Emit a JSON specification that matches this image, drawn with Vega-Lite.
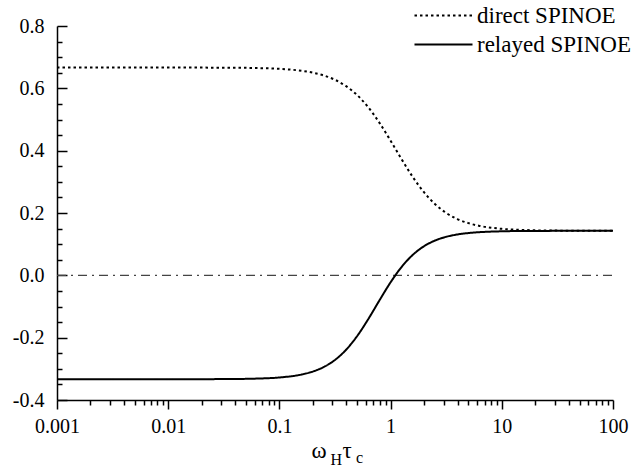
{
  "$schema": "https://vega.github.io/schema/vega-lite/v6.json",
  "width": 556,
  "height": 374,
  "autosize": {"type": "none"},
  "padding": {"left": 57, "top": 26, "right": 22, "bottom": 67},
  "background": "white",
  "title": {
    "text": "c",
    "orient": "bottom",
    "anchor": "start",
    "frame": "group",
    "dx": 299,
    "offset": -4,
    "baseline": "alphabetic",
    "font": "Times New Roman, Liberation Serif, DejaVu Serif, serif",
    "fontSize": 16,
    "fontWeight": "normal",
    "color": "black"
  },
  "config": {
    "view": {"stroke": null},
    "font": "Times New Roman, Liberation Serif, DejaVu Serif, serif",
    "legend": {
      "orient": "none",
      "legendX": 375,
      "legendY": -22,
      "symbolType": "M-3,0H3",
      "symbolSize": 374,
      "symbolStrokeWidth": 2,
      "symbolStrokeColor": "black",
      "labelFont": "Times New Roman, Liberation Serif, DejaVu Serif, serif",
      "labelFontSize": 23,
      "labelColor": "black",
      "labelOffset": 22,
      "rowPadding": 5,
      "padding": 0
    }
  },
  "data": {
    "values": [
      {"x": 0.001, "value": 0.6667, "series": "direct SPINOE"},
      {"x": 0.01, "value": 0.6666, "series": "direct SPINOE"},
      {"x": 0.03162, "value": 0.6663, "series": "direct SPINOE"},
      {"x": 0.0631, "value": 0.665, "series": "direct SPINOE"},
      {"x": 0.1, "value": 0.6625, "series": "direct SPINOE"},
      {"x": 0.1585, "value": 0.6562, "series": "direct SPINOE"},
      {"x": 0.1995, "value": 0.6503, "series": "direct SPINOE"},
      {"x": 0.2512, "value": 0.6412, "series": "direct SPINOE"},
      {"x": 0.3162, "value": 0.6274, "series": "direct SPINOE"},
      {"x": 0.3981, "value": 0.607, "series": "direct SPINOE"},
      {"x": 0.5012, "value": 0.578, "series": "direct SPINOE"},
      {"x": 0.631, "value": 0.5388, "series": "direct SPINOE"},
      {"x": 0.7943, "value": 0.4893, "series": "direct SPINOE"},
      {"x": 1, "value": 0.432, "series": "direct SPINOE"},
      {"x": 1.2589, "value": 0.372, "series": "direct SPINOE"},
      {"x": 1.5849, "value": 0.3152, "series": "direct SPINOE"},
      {"x": 1.9953, "value": 0.2667, "series": "direct SPINOE"},
      {"x": 2.5119, "value": 0.2284, "series": "direct SPINOE"},
      {"x": 3.1623, "value": 0.2003, "series": "direct SPINOE"},
      {"x": 3.981, "value": 0.1806, "series": "direct SPINOE"},
      {"x": 5.0119, "value": 0.1674, "series": "direct SPINOE"},
      {"x": 6.3096, "value": 0.1586, "series": "direct SPINOE"},
      {"x": 10, "value": 0.1492, "series": "direct SPINOE"},
      {"x": 15.849, "value": 0.1454, "series": "direct SPINOE"},
      {"x": 31.62, "value": 0.1435, "series": "direct SPINOE"},
      {"x": 100, "value": 0.1429, "series": "direct SPINOE"},
      {"x": 0.001, "value": -0.3333, "series": "relayed SPINOE"},
      {"x": 0.01, "value": -0.3333, "series": "relayed SPINOE"},
      {"x": 0.03162, "value": -0.3329, "series": "relayed SPINOE"},
      {"x": 0.0631, "value": -0.3313, "series": "relayed SPINOE"},
      {"x": 0.1, "value": -0.3277, "series": "relayed SPINOE"},
      {"x": 0.1585, "value": -0.3182, "series": "relayed SPINOE"},
      {"x": 0.1995, "value": -0.3088, "series": "relayed SPINOE"},
      {"x": 0.2512, "value": -0.294, "series": "relayed SPINOE"},
      {"x": 0.3162, "value": -0.2714, "series": "relayed SPINOE"},
      {"x": 0.3981, "value": -0.2386, "series": "relayed SPINOE"},
      {"x": 0.5012, "value": -0.1944, "series": "relayed SPINOE"},
      {"x": 0.631, "value": -0.1399, "series": "relayed SPINOE"},
      {"x": 0.7943, "value": -0.0802, "series": "relayed SPINOE"},
      {"x": 1, "value": -0.0223, "series": "relayed SPINOE"},
      {"x": 1.2589, "value": 0.0274, "series": "relayed SPINOE"},
      {"x": 1.5849, "value": 0.0659, "series": "relayed SPINOE"},
      {"x": 1.9953, "value": 0.0933, "series": "relayed SPINOE"},
      {"x": 2.5119, "value": 0.1117, "series": "relayed SPINOE"},
      {"x": 3.1623, "value": 0.1236, "series": "relayed SPINOE"},
      {"x": 3.981, "value": 0.1311, "series": "relayed SPINOE"},
      {"x": 5.0119, "value": 0.1357, "series": "relayed SPINOE"},
      {"x": 6.3096, "value": 0.1385, "series": "relayed SPINOE"},
      {"x": 10, "value": 0.1413, "series": "relayed SPINOE"},
      {"x": 15.849, "value": 0.1423, "series": "relayed SPINOE"},
      {"x": 31.62, "value": 0.1427, "series": "relayed SPINOE"},
      {"x": 100, "value": 0.1429, "series": "relayed SPINOE"}
    ]
  },
  "encoding": {
    "y": {
      "field": "value",
      "type": "quantitative",
      "scale": {"domain": [-0.4, 0.8], "nice": false, "zero": false},
      "axis": {
        "title": null,
        "grid": false,
        "values": [-0.4, -0.35, -0.3, -0.25, -0.2, -0.15, -0.1, -0.05, 0, 0.05, 0.1, 0.15, 0.2, 0.25, 0.3, 0.35, 0.4, 0.45, 0.5, 0.55, 0.6, 0.65, 0.7, 0.75, 0.8],
        "domainColor": "black",
        "domainWidth": 1.5,
        "tickColor": "black",
        "tickWidth": 1.5,
        "tickSize": {"condition": {"test": "abs(datum.value*5 - round(datum.value*5)) < 0.001", "value": -10}, "value": -5},
        "labelExpr": "abs(datum.value*5 - round(datum.value*5)) < 0.001 ? replace(format(datum.value, '.1f'), '\u2212', '-') : ''",
        "labelFont": "Times New Roman, Liberation Serif, DejaVu Serif, serif",
        "labelFontSize": 20,
        "labelColor": "black",
        "labelPadding": 23,
        "labelFlush": false,
        "labelOverlap": false
      }
    }
  },
  "layer": [
    {
      "data": {"values": [{"v": 0, "from": 0.001, "to": 100}]},
      "mark": {"type": "rule", "strokeDash": [9, 5, 2, 5], "color": "#444444", "strokeWidth": 1.2},
      "encoding": {
        "x": {
          "field": "from",
          "type": "quantitative",
          "scale": {"type": "log", "domain": [0.001, 100], "nice": false},
          "axis": {
            "orient": "bottom",
            "domain": false,
            "ticks": false,
            "labels": false,
            "grid": false,
            "title": "ω",
            "titleFont": "Times New Roman, Liberation Serif, DejaVu Serif, serif",
            "titleFontSize": 23,
            "titleFontWeight": "normal",
            "titleColor": "black",
            "titleX": 254,
            "titleY": 57,
            "titleAlign": "left",
            "titleBaseline": "alphabetic"
          }
        },
        "x2": {"field": "to"},
        "y": {"field": "v", "type": "quantitative"}
      }
    },
    {
      "transform": [{"filter": "datum.series == 'direct SPINOE'"}],
      "mark": {"type": "line", "color": "black", "strokeWidth": 2, "interpolate": "monotone"},
      "encoding": {
        "x": {
          "field": "x",
          "type": "quantitative",
          "scale": {"type": "log", "domain": [0.001, 100], "nice": false},
          "axis": {
            "orient": "bottom",
            "values": [0.001, 0.002, 0.003, 0.004, 0.005, 0.006, 0.007, 0.008, 0.009, 0.01, 0.02, 0.03, 0.04, 0.05, 0.06, 0.07, 0.08, 0.09, 0.1, 0.2, 0.3, 0.4, 0.5, 0.6, 0.7, 0.8, 0.9, 1, 2, 3, 4, 5, 6, 7, 8, 9, 10, 20, 30, 40, 50, 60, 70, 80, 90, 100],
            "format": "~f",
            "labelExpr": "indexof([0.001, 0.01, 0.1, 1, 10, 100], datum.value) >= 0 ? datum.label : ''",
            "grid": false,
            "domainColor": "black",
            "domainWidth": 1.5,
            "tickColor": "black",
            "tickWidth": 1.5,
            "tickSize": {"condition": {"test": "indexof([0.001, 0.01, 0.1, 1, 10, 100], datum.value) >= 0", "value": 9}, "value": 5},
            "labelFont": "Times New Roman, Liberation Serif, DejaVu Serif, serif",
            "labelFontSize": 20,
            "labelColor": "black",
            "labelPadding": 7,
            "labelFlush": false,
            "labelOverlap": false,
            "title": "τ",
            "titleFont": "Times New Roman, Liberation Serif, DejaVu Serif, serif",
            "titleFontSize": 23,
            "titleFontWeight": "normal",
            "titleColor": "black",
            "titleX": 285,
            "titleY": 57,
            "titleAlign": "left",
            "titleBaseline": "alphabetic"
          }
        },
        "strokeDash": {
          "field": "series",
          "type": "nominal",
          "scale": {"domain": ["direct SPINOE", "relayed SPINOE"], "range": [[2.5, 3], [1, 0]]},
          "legend": {"title": null}
        }
      }
    },
    {
      "transform": [{"filter": "datum.series == 'relayed SPINOE'"}],
      "mark": {"type": "line", "color": "black", "strokeWidth": 2, "interpolate": "monotone"},
      "encoding": {
        "x": {
          "field": "x",
          "type": "quantitative",
          "scale": {"type": "log", "domain": [0.001, 100], "nice": false},
          "axis": {
            "orient": "bottom",
            "domain": false,
            "ticks": false,
            "labels": false,
            "grid": false,
            "title": "H",
            "titleFont": "Times New Roman, Liberation Serif, DejaVu Serif, serif",
            "titleFontSize": 16,
            "titleFontWeight": "normal",
            "titleColor": "black",
            "titleX": 273,
            "titleY": 64,
            "titleAlign": "left",
            "titleBaseline": "alphabetic"
          }
        },
        "strokeDash": {
          "field": "series",
          "type": "nominal",
          "scale": {"domain": ["direct SPINOE", "relayed SPINOE"], "range": [[2.5, 3], [1, 0]]},
          "legend": {"title": null}
        }
      }
    }
  ],
  "resolve": {"axis": {"x": "independent"}}
}
